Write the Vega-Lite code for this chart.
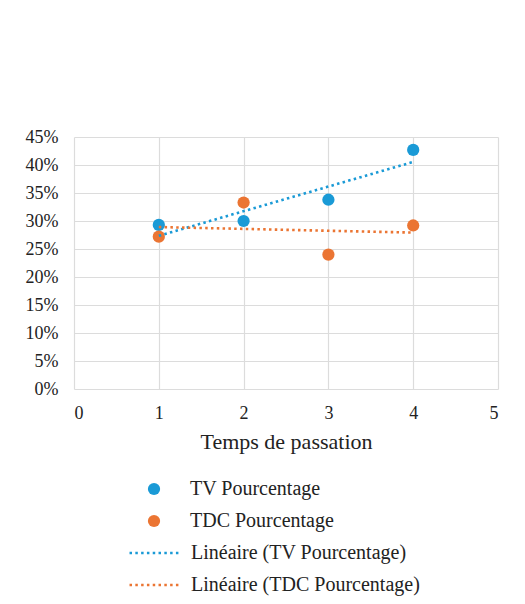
{
  "$schema": "https://vega.github.io/schema/vega-lite/v6.json",
  "autosize": "none",
  "width": 424,
  "height": 252,
  "padding": {"left": 74, "top": 137, "right": 27, "bottom": 215},
  "background": "white",
  "config": {
    "view": {"stroke": null},
    "font": "Times New Roman, Liberation Serif, serif",
    "axis": {
      "labelFont": "Times New Roman, Liberation Serif, serif",
      "titleFont": "Times New Roman, Liberation Serif, serif",
      "labelColor": "#222222",
      "titleColor": "#222222",
      "labelFontSize": 18,
      "titleFontSize": 22,
      "titleFontWeight": "normal",
      "gridColor": "#dcdcdc",
      "gridWidth": 1.2,
      "domain": false,
      "ticks": false
    },
    "legend": {
      "labelFont": "Times New Roman, Liberation Serif, serif",
      "labelFontSize": 20,
      "labelColor": "#222222",
      "labelLimit": 400
    }
  },
  "data": {
    "values": [
      {"temps": 1, "valeur": 0.293, "serie": "TV Pourcentage", "tendance": "Linéaire (TV Pourcentage)"},
      {"temps": 2, "valeur": 0.300, "serie": "TV Pourcentage", "tendance": "Linéaire (TV Pourcentage)"},
      {"temps": 3, "valeur": 0.338, "serie": "TV Pourcentage", "tendance": "Linéaire (TV Pourcentage)"},
      {"temps": 4, "valeur": 0.427, "serie": "TV Pourcentage", "tendance": "Linéaire (TV Pourcentage)"},
      {"temps": 1, "valeur": 0.272, "serie": "TDC Pourcentage", "tendance": "Linéaire (TDC Pourcentage)"},
      {"temps": 2, "valeur": 0.333, "serie": "TDC Pourcentage", "tendance": "Linéaire (TDC Pourcentage)"},
      {"temps": 3, "valeur": 0.240, "serie": "TDC Pourcentage", "tendance": "Linéaire (TDC Pourcentage)"},
      {"temps": 4, "valeur": 0.292, "serie": "TDC Pourcentage", "tendance": "Linéaire (TDC Pourcentage)"}
    ]
  },
  "encoding": {
    "x": {
      "field": "temps",
      "type": "quantitative",
      "scale": {"domain": [0, 5], "nice": false},
      "axis": {"values": [0, 1, 2, 3, 4, 5], "format": "d", "title": "Temps de passation", "labelPadding": 15, "titlePadding": 9}
    },
    "y": {
      "field": "valeur",
      "type": "quantitative",
      "scale": {"domain": [0, 0.45], "nice": false},
      "axis": {"values": [0, 0.05, 0.1, 0.15, 0.2, 0.25, 0.3, 0.35, 0.4, 0.45], "format": ".0%", "title": null, "labelPadding": 16}
    }
  },
  "layer": [
    {
      "mark": {"type": "point", "filled": true, "size": 150, "opacity": 1},
      "encoding": {
        "color": {
          "field": "serie",
          "type": "nominal",
          "scale": {
            "domain": ["TV Pourcentage", "TDC Pourcentage"],
            "range": ["#1a9ad6", "#eb7533"]
          },
          "legend": {
            "title": null,
            "orient": "none",
            "legendX": 70,
            "legendY": 342,
            "direction": "vertical",
            "symbolSize": 150,
            "symbolOpacity": 1,
            "rowPadding": 12,
            "labelOffset": 26
          }
        }
      }
    },
    {
      "transform": [
        {"regression": "valeur", "on": "temps", "groupby": ["tendance"], "method": "linear"}
      ],
      "mark": {"type": "line", "strokeWidth": 2.6, "strokeDash": [2.5, 3.3], "strokeCap": "butt"},
      "encoding": {
        "stroke": {
          "field": "tendance",
          "type": "nominal",
          "scale": {
            "domain": ["Linéaire (TV Pourcentage)", "Linéaire (TDC Pourcentage)"],
            "range": ["#1a9ad6", "#eb7533"]
          },
          "legend": {
            "title": null,
            "orient": "none",
            "legendX": 54,
            "legendY": 406,
            "direction": "vertical",
            "symbolType": "stroke",
            "symbolSize": 2700,
            "symbolStrokeWidth": 2.6,
            "symbolDash": [2.5, 3.3],
            "clipHeight": 20,
            "rowPadding": 12,
            "labelOffset": 8
          }
        }
      }
    }
  ],
  "resolve": {"scale": {"color": "independent", "stroke": "independent"}, "legend": {"color": "independent", "stroke": "independent"}}
}
